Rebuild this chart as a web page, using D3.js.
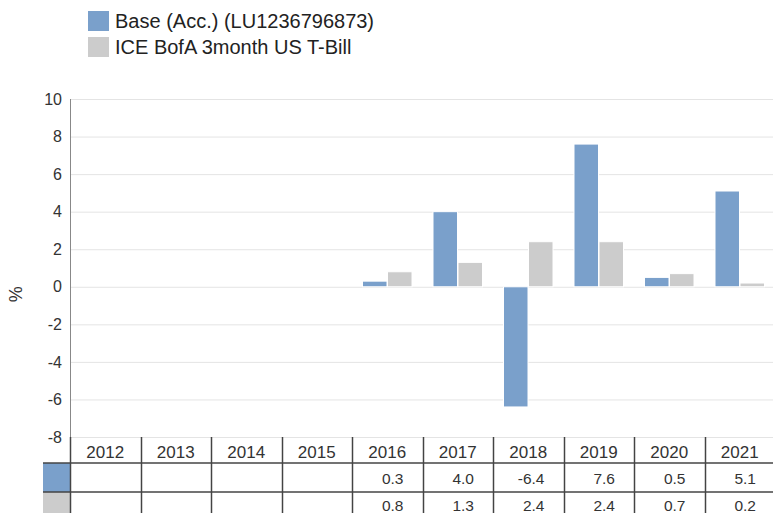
<!DOCTYPE html>
<html>
<head>
<meta charset="utf-8">
<script src="https://cdn.jsdelivr.net/npm/d3@7"></script>
<style>
  body { margin: 0; background: #fff; }
  svg { display: block; font-family: "Liberation Sans", Arial, sans-serif; }
</style>
</head>
<body>
<svg id="chart"></svg>
<script>
const years = ['2012', '2013', '2014', '2015', '2016', '2017', '2018', '2019', '2020', '2021'];
const seriesNames = ['Base (Acc.) (LU1236796873)', 'ICE BofA 3month US T-Bill'];
const fundValues = [null, null, null, null, 0.3, 4.0, -6.4, 7.6, 0.5, 5.1];
const benchValues = [null, null, null, null, 0.8, 1.3, 2.4, 2.4, 0.7, 0.2];
const colors = ['#7aa0cb', '#cccccc'];
const yTicks = [-8, -6, -4, -2, 0, 2, 4, 6, 8, 10];

const width = 773, height = 513;
const margin = { top: 99, right: -2, left: 70 };
const plotBottom = 437;

const svg = d3.select('#chart').attr('width', width).attr('height', height);

const x = d3.scaleBand().domain(years).range([margin.left, width - margin.right]).padding(0);
const x1 = d3.scaleBand().domain([0, 1]).range([0, x.bandwidth()]).paddingInner(0.02).paddingOuter(0.42);
const y = d3.scaleLinear().domain([-8, 10]).range([plotBottom, margin.top]);

// gridlines
svg.append('g')
    .selectAll('line')
    .data(yTicks)
    .enter()
    .append('line')
    .attr('x1', margin.left)
    .attr('x2', width)
    .attr('y1', d => y(d) + 0.5)
    .attr('y2', d => y(d) + 0.5)
    .attr('stroke', '#e4e4e4')
    .attr('stroke-width', 1);

// y axis
const yAxis = svg.append('g')
    .attr('transform', `translate(${margin.left},0)`)
    .call(d3.axisLeft(y).tickValues(yTicks).tickSize(0).tickPadding(8).tickFormat(d => String(d)));
yAxis.select('.domain').attr('stroke', '#888').attr('d', `M0.5,${margin.top}V${plotBottom}`);
yAxis.selectAll('text').attr('font-size', 16).attr('fill', '#333').attr('font-family', '"Liberation Sans", Arial, sans-serif');

svg.append('text')
    .attr('transform', `translate(22,${y(-0.4)}) rotate(-90)`)
    .attr('text-anchor', 'middle')
    .attr('font-size', 18)
    .attr('fill', '#333')
    .text('%');

// bars
const allSeries = [fundValues, benchValues];
allSeries.forEach((vals, si) => {
    svg.append('g')
        .selectAll('rect')
        .data(years.map((yr, i) => ({ yr, v: vals[i] })).filter(d => d.v !== null))
        .enter()
        .append('rect')
        .attr('x', d => x(d.yr) + x1(si))
        .attr('y', d => y(Math.max(0, d.v)))
        .attr('width', x1.bandwidth())
        .attr('height', d => Math.abs(y(d.v) - y(0)))
        .attr('fill', colors[si])
        .attr('stroke', '#fff')
        .attr('stroke-width', 1);
});

// legend
const legend = svg.append('g');
seriesNames.forEach((name, i) => {
    const g = legend.append('g').attr('transform', `translate(88,${11 + i * 26})`);
    g.append('rect').attr('width', 21).attr('height', 20).attr('fill', colors[i]);
    g.append('text')
        .attr('x', 27)
        .attr('y', 17)
        .attr('font-size', 20)
        .attr('fill', '#222')
        .text(name);
});

// data table
const rowTops = [plotBottom, 463, 492, 521];
const rowBaselines = [484, 511];
const table = svg.append('g');
const lineColor = '#444';

// header text
table.selectAll('.hdr')
    .data(years)
    .enter()
    .append('text')
    .attr('x', d => x(d) + x.bandwidth() / 2)
    .attr('y', 458)
    .attr('text-anchor', 'middle')
    .attr('font-size', 17)
    .attr('fill', '#333')
    .text(d => d);

// value rows
allSeries.forEach((vals, si) => {
    table.append('rect')
        .attr('x', 43)
        .attr('y', rowTops[si + 1])
        .attr('width', 27)
        .attr('height', rowTops[si + 2] - rowTops[si + 1])
        .attr('fill', colors[si]);
    table.append('g')
        .selectAll('text')
        .data(years.map((yr, i) => ({ yr, v: vals[i] })).filter(d => d.v !== null))
        .enter()
        .append('text')
        .attr('x', d => x(d.yr) + x.bandwidth() - 19)
        .attr('y', rowBaselines[si])
        .attr('text-anchor', 'end')
        .attr('font-size', 15.5)
        .attr('fill', '#333')
        .text(d => d.v.toFixed(1));
});

// horizontal rules
[463, 492].forEach(yy => {
    table.append('line')
        .attr('x1', 43).attr('x2', width)
        .attr('y1', yy).attr('y2', yy)
        .attr('stroke', lineColor).attr('stroke-width', 1.5);
});

// vertical rules
table.selectAll('.vr')
    .data(years)
    .enter()
    .append('line')
    .attr('x1', d => Math.round(x(d)) + 0.5)
    .attr('x2', d => Math.round(x(d)) + 0.5)
    .attr('y1', plotBottom)
    .attr('y2', height)
    .attr('stroke', lineColor)
    .attr('stroke-width', 1.5);
</script>
</body>
</html>
